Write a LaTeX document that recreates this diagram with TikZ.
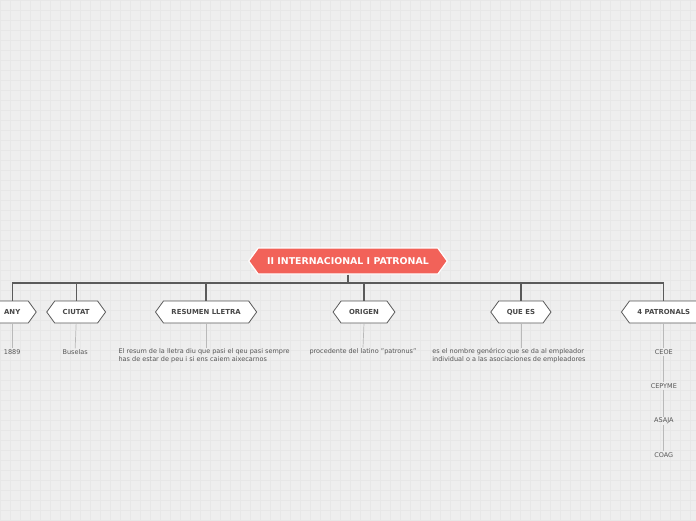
\documentclass[tikz,border=0pt]{standalone}
\usepackage{fontspec}
\setmainfont{DejaVu Sans}
\usetikzlibrary{shapes.symbols}

\definecolor{paper}{HTML}{EEEEEE}
\definecolor{gridgray}{HTML}{E7E7E7}
\definecolor{rootred}{HTML}{F26259}
\definecolor{ink}{HTML}{5A5A5A}
\definecolor{leafink}{HTML}{555555}

\tikzset{
	hexbox/.style={shape=signal, signal to=west and east, signal pointer angle=108,
		minimum height=22pt, inner xsep=8pt, inner ysep=0pt},
	rootbox/.style={hexbox, minimum height=26pt, inner xsep=9pt, fill=rootred, draw=white,
		line width=1.2pt, text=white, font=\fontsize{9.4}{11}\selectfont\bfseries,
		text height=6.9pt, text depth=0pt},
	topicbox/.style={hexbox, fill=white, draw=ink, line width=0.8pt, text=ink!80!black,
		font=\fontsize{6.9}{8}\selectfont\bfseries, text height=5pt, text depth=0pt},
	leaf/.style={text=leafink, align=left, inner sep=1pt, font=\fontsize{6.5}{8}\selectfont},
	trunk/.style={draw=ink, line width=1.2pt},
	twig/.style={draw=gray!55, line width=0.7pt},
}

\begin{document}
\begin{tikzpicture}[x=1pt, y=-1pt]
	% background with grid
	\fill[paper] (0,0) rectangle (696,520);
	\draw[gridgray, line width=0.4pt, step=10pt] (0,0) grid (696,520);
	\useasboundingbox (0,0) rectangle (696,520);
	\clip (0,0) rectangle (696,520);

	\node[rootbox] (root) at (348,261) {II INTERNACIONAL I PATRONAL};
	\coordinate (hub) at (348,283);

	\node[topicbox] (any)     at (12,312)  {ANY};
	\node[topicbox] (ciutat)  at (76,312)  {CIUTAT};
	\node[topicbox] (resumen) at (206,312) {RESUMEN LLETRA};
	\node[topicbox] (origen)  at (364,312) {ORIGEN};
	\node[topicbox] (quees)   at (521,312) {QUE ES};
	\node[topicbox] (patr)    at (664,312) {4 PATRONALS};

	\draw[trunk] (root.south) -- (hub);
	\foreach \t in {any,ciutat,resumen,origen,quees,patr}
		\draw[trunk] (hub) -| (\t.north);

	\node[leaf] (year)  at (12,352)  {1889};
	\node[leaf] (city)  at (75,352)  {Buselas};
	\node[leaf] (lyric) at (204,356) {El resum de la lletra diu que pasi el qeu pasi sempre\\has de estar de peu i si ens caiem aixecarnos};
	\node[leaf] (orig)  at (363,352) {procedente del latino "patronus"};
	\node[leaf] (defn)  at (509,356) {es el nombre genérico que se da al empleador\\individual o a las asociaciones de empleadores};
	\node[leaf] (ceoe)   at (664,352) {CEOE};
	\node[leaf] (cepyme) at (664,386) {CEPYME};
	\node[leaf] (asaja)  at (664,421) {ASAJA};
	\node[leaf] (coag)   at (664,455) {COAG};

	\draw[twig] (any.south) -- (year.north);
	\draw[twig] (ciutat.south) -- (city.north);
	\draw[twig] (resumen.south) -- (resumen.south |- lyric.north);
	\draw[twig] (origen.south) -- (orig.north);
	\draw[twig] (quees.south) -- (quees.south |- defn.north);
	\draw[twig] (patr.south) -- (ceoe.north);
	\draw[twig] (ceoe.south) -- (cepyme.north);
	\draw[twig] (cepyme.south) -- (asaja.north);
	\draw[twig] (asaja.south) -- (coag.north);
\end{tikzpicture}
\end{document}
